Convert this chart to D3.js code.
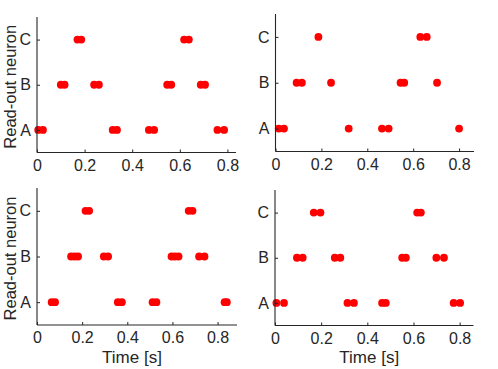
<!DOCTYPE html>
<html>
<head>
<meta charset="utf-8">
<script src="https://cdn.jsdelivr.net/npm/d3@7"></script>
<style>
  body { margin: 0; background: #fff; }
  svg text { font-family: "Liberation Sans", Arial, sans-serif; fill: #262626; }
</style>
</head>
<body>
<svg id="chart" width="498" height="369"></svg>
<script>
// neuron labels, bottom to top
const neurons = ["A", "B", "C"];
const timeTicks = [0, 0.2, 0.4, 0.6, 0.8];

// spike times [s] per read-out neuron, one set per panel
const topLeftA = [0.005, 0.025, 0.318, 0.336, 0.47, 0.492, 0.758, 0.786];
const topLeftB = [0.10, 0.116, 0.24, 0.26, 0.547, 0.564, 0.688, 0.706];
const topLeftC = [0.17, 0.186, 0.618, 0.638];

const topRightA = [0.014, 0.037, 0.319, 0.464, 0.493, 0.80];
const topRightB = [0.092, 0.115, 0.242, 0.545, 0.561, 0.704];
const topRightC = [0.187, 0.631, 0.659];

const bottomLeftA = [0.065, 0.08, 0.358, 0.376, 0.512, 0.529, 0.831, 0.841];
const bottomLeftB = [0.151, 0.167, 0.182, 0.296, 0.315, 0.596, 0.611, 0.627, 0.718, 0.742];
const bottomLeftC = [0.215, 0.231, 0.672, 0.689];

const bottomRightA = [0.006, 0.039, 0.314, 0.342, 0.464, 0.48, 0.774, 0.802];
const bottomRightB = [0.095, 0.12, 0.259, 0.283, 0.551, 0.567, 0.699, 0.732];
const bottomRightC = [0.168, 0.197, 0.616, 0.632];

const xMax = [0.836, 0.865, 0.886, 0.86];

let svg = d3.select("#chart");

const panels = [
  {x0: 37, x1: 236, y0: 17, y1: 152.5, spikes: [topLeftA, topLeftB, topLeftC], ylab: true, xlab: false},
  {x0: 275.5, x1: 474, y0: 14, y1: 151.5, spikes: [topRightA, topRightB, topRightC], ylab: false, xlab: false},
  {x0: 37, x1: 237, y0: 188, y1: 325, spikes: [bottomLeftA, bottomLeftB, bottomLeftC], ylab: true, xlab: true},
  {x0: 275, x1: 473.5, y0: 190, y1: 325.5, spikes: [bottomRightA, bottomRightB, bottomRightC], ylab: false, xlab: true}
];

panels.forEach((p, i) => {
  const x = d3.scaleLinear().domain([0, xMax[i]]).range([p.x0, p.x1]);
  const y = d3.scaleLinear().domain([0.5, 3.5]).range([p.y1, p.y0]);

  const g = svg.append("g");

  // spikes
  p.spikes.forEach((times, n) => {
    g.selectAll(null)
      .data(times)
      .enter()
      .append("circle")
      .attr("cx", d => x(d))
      .attr("cy", y(n + 1))
      .attr("r", 3.9)
      .attr("fill", "#ff0000");
  });

  const xAxis = d3.axisBottom(x).tickValues(timeTicks).tickSize(-3).tickPadding(7)
    .tickFormat(d => d === 0 ? "0" : d3.format(".1f")(d));
  const gx = g.append("g").attr("transform", "translate(0," + p.y1 + ")").call(xAxis);

  const yAxis = d3.axisLeft(y).tickValues([1, 2, 3]).tickSize(-3).tickPadding(6)
    .tickFormat(d => neurons[d - 1]);
  const gy = g.append("g").attr("transform", "translate(" + p.x0 + ",0)").call(yAxis);

  [gx, gy].forEach(a => {
    a.select(".domain").attr("stroke", "#262626").attr("stroke-width", 1.1);
    a.selectAll(".tick line").attr("stroke", "#262626");
    a.selectAll(".tick text").attr("font-size", 16).attr("fill", "#262626")
      .style("font-family", "'Liberation Sans', Arial, sans-serif");
  });
  // no end caps on the axis lines (box off style)
  gx.select(".domain").attr("d", "M" + p.x0 + ",0H" + p.x1);
  gy.select(".domain").attr("d", "M0," + p.y1 + "V" + p.y0);

  if (p.ylab) {
    g.append("text")
      .attr("transform", "translate(16," + ((p.y0 + p.y1) / 2 + 2) + ") rotate(-90)")
      .attr("text-anchor", "middle")
      .attr("font-size", 16.5)
      .text("Read-out neuron");
  }
  if (p.xlab) {
    g.append("text")
      .attr("x", (p.x0 + p.x1) / 2 - 5)
      .attr("y", 363)
      .attr("text-anchor", "middle")
      .attr("font-size", 17)
      .text("Time [s]");
  }
});
</script>
</body>
</html>
